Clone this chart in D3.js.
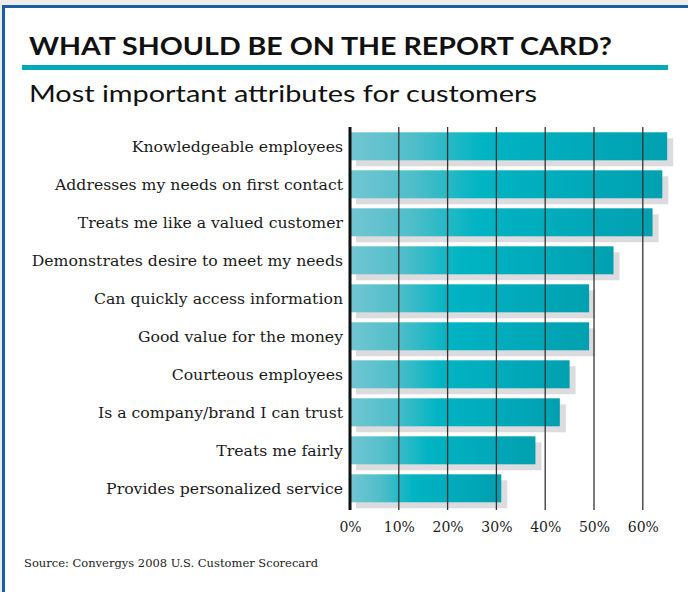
<!DOCTYPE html>
<html><head><meta charset="utf-8">
<script src="https://cdn.jsdelivr.net/npm/d3@7"></script>
<style>html,body{margin:0;padding:0;background:#fff;}svg{display:block;}</style>
</head><body>
<script>
const categories = ["Knowledgeable employees","Addresses my needs on first contact","Treats me like a valued customer","Demonstrates desire to meet my needs","Can quickly access information","Good value for the money","Courteous employees","Is a company/brand I can trust","Treats me fairly","Provides personalized service"];
const values = [65, 64, 62, 54, 49, 49, 45, 43, 38, 31];
const tickValues = [0, 10, 20, 30, 40, 50, 60];
const title = "WHAT SHOULD BE ON THE REPORT CARD?";
const subtitle = "Most important attributes for customers";
const source = "Source: Convergys 2008 U.S. Customer Scorecard";

const W = 688, H = 592;
const svg = d3.select("body").append("svg").attr("width", W).attr("height", H);

// page background + border
svg.append("rect").attr("width", W).attr("height", H).attr("fill", "#eeede8");
svg.append("rect").attr("x", 2).attr("y", 5).attr("width", W).attr("height", H).attr("fill", "#fff");
svg.append("line").attr("x1", 3.5).attr("x2", 3.5).attr("y1", 5).attr("y2", H).attr("stroke", "#1b5ea8").attr("stroke-width", 3);
svg.append("line").attr("x1", 2).attr("x2", W).attr("y1", 6.5).attr("y2", 6.5).attr("stroke", "#1b5ea8").attr("stroke-width", 3);

svg.append("text").attr("x", 29).attr("y", 54.8).text(title)
  .attr("font-family", "Lato, sans-serif").attr("font-weight", 700).attr("font-size", 24.5)
  .attr("fill", "#111").attr("textLength", 583).attr("lengthAdjust", "spacingAndGlyphs");
svg.append("rect").attr("x", 22).attr("y", 65).attr("width", 646).attr("height", 5).attr("fill", "#00aab9");
svg.append("text").attr("x", 29).attr("y", 102.3).text(subtitle)
  .attr("font-family", "Lato, sans-serif").attr("font-weight", 400).attr("font-size", 24)
  .attr("fill", "#111").attr("textLength", 508).attr("lengthAdjust", "spacingAndGlyphs");

// gradient
const defs = svg.append("defs");
const grad = defs.append("linearGradient").attr("id", "barGrad").attr("x1", 0).attr("x2", 1).attr("y1", 0).attr("y2", 0);
grad.append("stop").attr("offset", "0%").attr("stop-color", "#72c6d2");
grad.append("stop").attr("offset", "20%").attr("stop-color", "#50bec9");
grad.append("stop").attr("offset", "42%").attr("stop-color", "#00b4c3");
grad.append("stop").attr("offset", "100%").attr("stop-color", "#01a0b0");

const x = d3.scaleLinear().domain([0, 60]).range([350, 642.8]);
const pi = 10 / 38;
const y = d3.scaleBand().domain(categories).range([127.3, 507.3]).paddingInner(pi).paddingOuter(pi / 2);

const rows = categories.map((c, i) => ({ c, v: values[i] }));

// shadows
svg.append("g").selectAll("rect").data(rows).join("rect")
  .attr("x", x(0) + 6).attr("y", d => y(d.c) + 6)
  .attr("width", d => x(d.v) - x(0)).attr("height", y.bandwidth())
  .attr("fill", "#dcdcde");
// bars
svg.append("g").selectAll("rect").data(rows).join("rect")
  .attr("x", x(0)).attr("y", d => y(d.c))
  .attr("width", d => x(d.v) - x(0)).attr("height", y.bandwidth())
  .attr("fill", "url(#barGrad)");

// gridlines
const gridTop = 127, gridBottom = 510;
svg.append("g").selectAll("line").data(tickValues.filter(t => t > 0)).join("line")
  .attr("x1", d => x(d)).attr("x2", d => x(d)).attr("y1", gridTop).attr("y2", gridBottom)
  .attr("stroke", "#333").attr("stroke-width", 1.3);
svg.append("line").attr("x1", x(0)).attr("x2", x(0)).attr("y1", gridTop).attr("y2", gridBottom)
  .attr("stroke", "#111").attr("stroke-width", 3);

// axis tick labels
const axis = d3.axisBottom(x).tickValues(tickValues).tickFormat(d => d + "%").tickSize(0).tickPadding(0);
const ag = svg.append("g").attr("transform", `translate(0,${gridBottom})`).call(axis);
ag.select(".domain").remove();
ag.selectAll("text").attr("dy", null).attr("y", 21.5)
  .attr("font-family", "'DejaVu Serif', Georgia, serif").attr("font-size", 14).attr("fill", "#222");

// category labels
svg.append("g").selectAll("text").data(rows).join("text")
  .attr("x", 343).attr("y", d => y(d.c) + y.bandwidth() / 2 + 5.5)
  .attr("text-anchor", "end").text(d => d.c)
  .attr("font-family", "'DejaVu Serif', Georgia, serif").attr("font-size", 15.7).attr("fill", "#1a1a1a");

svg.append("text").attr("x", 24).attr("y", 567).text(source)
  .attr("font-family", "'DejaVu Serif', Georgia, serif").attr("font-size", 11.5).attr("fill", "#222");
</script>
</body></html>
